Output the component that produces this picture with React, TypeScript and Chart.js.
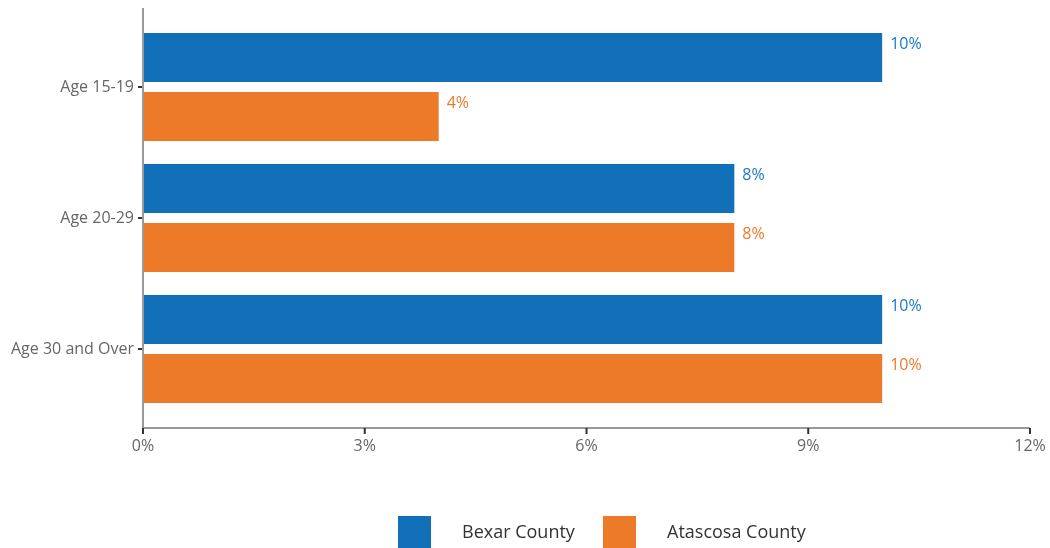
import React, { useEffect, useRef } from "react";
import { Chart, registerables } from "chart.js";
Chart.register(...registerables);

const categories = ["Age 15-19", "Age 20-29", "Age 30 and Over"];
const bexar = [10, 8, 10];
const atascosa = [4, 8, 10];
const xTicks = [0, 3, 6, 9, 12];
const seriesNames = ["Bexar County", "Atascosa County"];
const colors = ["#1170b8", "#ed7a28"];
const labelColors = ["#1a78c2", "#ed7a28"];

const FONT = "'Open Sans', 'Noto Sans', sans-serif";

const decor = {
  id: "decor",
  afterDraw(chart: any) {
    const ctx = chart.ctx;
    const a = chart.chartArea;
    const ext = 13.5;
    const xs = chart.scales.x;
    ctx.save();
    // axis lines
    ctx.strokeStyle = "#999999";
    ctx.lineWidth = 2;
    ctx.beginPath();
    ctx.moveTo(a.left, a.top - ext);
    ctx.lineTo(a.left, a.bottom + ext + 1);
    ctx.moveTo(a.left - 1, a.bottom + ext);
    ctx.lineTo(a.right, a.bottom + ext);
    ctx.stroke();
    // x tick marks
    ctx.strokeStyle = "#333333";
    ctx.lineWidth = 2;
    ctx.beginPath();
    for (const v of xTicks) {
      const px = xs.getPixelForValue(v);
      ctx.moveTo(px, a.bottom + ext);
      ctx.lineTo(px, a.bottom + ext + 6);
    }
    ctx.stroke();
    // data labels
    ctx.font = `16px ${FONT}`;
    ctx.textAlign = "left";
    ctx.textBaseline = "middle";
    chart.data.datasets.forEach((ds: any, di: number) => {
      const meta = chart.getDatasetMeta(di);
      meta.data.forEach((bar: any, i: number) => {
        ctx.fillStyle = labelColors[di];
        ctx.fillText(ds.data[i] + "%", bar.x + 8, bar.y - bar.height / 2 + 11);
      });
    });
    // legend
    const boxX = [398, 603];
    const textX = [462, 667];
    ctx.font = `18px ${FONT}`;
    chart.data.datasets.forEach((ds: any, di: number) => {
      ctx.fillStyle = ds.backgroundColor;
      ctx.fillRect(boxX[di], 516, 33, 33);
      ctx.fillStyle = "#333333";
      ctx.fillText(ds.label, textX[di], 533);
    });
    ctx.restore();
  },
};

export default function App() {
  const ref = useRef<HTMLCanvasElement>(null);
  useEffect(() => {
    if (!ref.current) return;
    const chart = new Chart(ref.current, {
      type: "bar",
      data: {
        labels: categories,
        datasets: [
          { label: seriesNames[0], data: bexar, backgroundColor: colors[0], categoryPercentage: 0.9, barPercentage: 0.83 },
          { label: seriesNames[1], data: atascosa, backgroundColor: colors[1], categoryPercentage: 0.9, barPercentage: 0.83 },
        ],
      },
      options: {
        indexAxis: "y",
        animation: false,
        responsive: false,
        layout: { padding: { left: 0, top: 21.5, right: 20, bottom: 0 } },
        plugins: { legend: { display: false }, tooltip: { enabled: false } },
        scales: {
          y: {
            afterFit: (s: any) => { s.width = 143; s.paddingTop = 0; s.paddingBottom = 0; },
            border: { display: false },
            grid: { display: true, drawOnChartArea: false, drawTicks: true, tickLength: 5, color: "#333333", lineWidth: 2, offset: false },
            ticks: { color: "#666666", font: { size: 16, family: FONT }, padding: 4 },
          },
          x: {
            min: 0,
            max: 12,
            afterFit: (s: any) => { s.height = 133.5; s.paddingLeft = 0; s.paddingRight = 0; },
            afterBuildTicks: (s: any) => { s.ticks = xTicks.map((v) => ({ value: v })); },
            border: { display: false },
            grid: { display: true, drawOnChartArea: false, drawTicks: false },
            ticks: { color: "#666666", font: { size: 16, family: FONT }, padding: 22, callback: (v: any) => v + "%", maxRotation: 0 },
          },
        },
      },
      plugins: [decor],
    });
    return () => chart.destroy();
  }, []);
  return (
    <div style={{ position: "fixed", left: 0, top: 0, width: 1050, height: 548, background: "#fff" }}>
      <canvas ref={ref} width={1050} height={548} style={{ width: 1050, height: 548 }} />
    </div>
  );
}
